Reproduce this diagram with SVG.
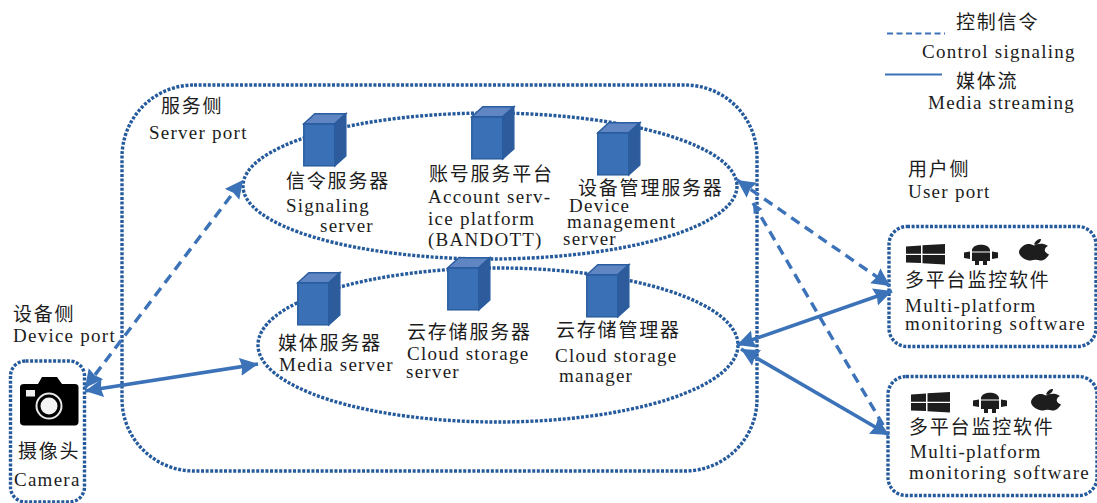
<svg xmlns="http://www.w3.org/2000/svg" width="1097" height="503" viewBox="0 0 1097 503">
<style>
text{font-family:"Liberation Serif","Noto Sans CJK SC",serif;fill:#1c1c1c;font-size:19px;letter-spacing:1.25px}
.zh{font-size:19px;letter-spacing:1.8px;font-family:"Noto Sans CJK SC","Liberation Serif",sans-serif;font-weight:400}
.box{fill:none;stroke:#255a9c;stroke-width:3.4;stroke-dasharray:3 1.6}
.sol{fill:none;stroke:#3b72b8;stroke-width:3.6}
.das{fill:none;stroke:#3b72b8;stroke-width:3.4;stroke-dasharray:10 6.500}
.ic{fill:#1d1d1d}
</style>
<defs>
<marker id="a" markerUnits="userSpaceOnUse" markerWidth="22" markerHeight="22" refX="18" refY="9" orient="auto-start-reverse"><path d="M0 0L18 9L0 18L2 9Z" fill="#3b72b8"/></marker>
<marker id="s" markerUnits="userSpaceOnUse" markerWidth="14" markerHeight="14" refX="10" refY="5" orient="auto-start-reverse"><path d="M0 0L10 5L0 10Z" fill="#3b72b8"/></marker>
<g id="cube"><rect x=".8" y="10.800" width="31" height="42" fill="#3a70b6" stroke="#2a5d9f" stroke-width="1.500"/><path d="M.8 10.800L11.800 .8H42.800L31.800 10.800Z" fill="#5f85c2" stroke="#2a5d9f" stroke-width="1.500"/><path d="M31.800 10.800L42.800 .8V42.800L31.800 52.800Z" fill="#2d5b9c" stroke="#2a5d9f" stroke-width="1.500"/></g>
<path id="win" class="ic" d="M0 2.500L15 1.500V9.700H0ZM16.500 1.300L39 0V9.700H16.500ZM0 11H15V19L0 18.500ZM16.500 11H39V20.500L16.500 19.200Z"/>
<path id="droid" class="ic" d="M8 7C9 0 25 0 26 7V8.500H8ZM8 9.500H26V18H23V22H19V18H15V22H11V18H8ZM0 9.500L6 8.500V16L0 15ZM28 8.500L34 9.500V15L28 16Z"/>
<path id="apple" class="ic" d="M4 7C8 4 12 5 15 6.500C18 5 24 3.500 29 7C25 9 24 13 30 15.500C28 19 25 22 21 21.500C18 20.500 15 20.500 12 21.500C8 22 0 18 0 13C0 10.500 2 8.500 4 7ZM15 5.500C16 2 19 0 22 0C22 3 19 6 15 5.500Z"/>
</defs>
<g id="legend">
<line class="das" x1="887" y1="33.500" x2="945" y2="33.500" style="stroke-width:2;stroke-dasharray:6 3.500"/>
<line class="sol" x1="885" y1="74.500" x2="942" y2="74.500" style="stroke-width:2"/>
<text class="zh" x="956" y="29">控制信令</text>
<text x="922" y="58">Control signaling</text>
<text class="zh" x="956" y="88">媒体流</text>
<text x="928" y="109">Media streaming</text>
</g>
<g id="server-port">
<rect class="box" x="122" y="85" width="635" height="386" rx="72" ry="72"/>
<text class="zh" x="161" y="113">服务侧</text>
<text x="149" y="139">Server port</text>
</g>
<g id="signal-group"><ellipse class="box" cx="490" cy="186" rx="247" ry="73"/></g>
<g id="media-group"><ellipse class="box" cx="498" cy="345" rx="240" ry="77"/></g>
<g id="signaling-server">
<use href="#cube" x="303" y="113"/>
<text class="zh" x="286" y="188">信令服务器</text>
<text x="286" y="212">Signaling</text>
<text x="320" y="232">server</text>
</g>
<g id="account-platform">
<use href="#cube" x="471" y="106"/>
<text class="zh" x="429" y="181">账号服务平台</text>
<text x="428" y="203">Account serv-</text>
<text x="428" y="225">ice platform</text>
<text x="428" y="246">(BANDOTT)</text>
</g>
<g id="device-management">
<use href="#cube" x="597" y="122"/>
<text class="zh" x="578" y="195">设备管理服务器</text>
<text x="569" y="212">Device</text>
<text x="567" y="228">management</text>
<text x="563" y="245">server</text>
</g>
<g id="media-server">
<use href="#cube" x="297" y="272"/>
<text class="zh" x="278" y="350">媒体服务器</text>
<text x="279" y="371">Media server</text>
</g>
<g id="cloud-storage">
<use href="#cube" x="447" y="257"/>
<text class="zh" x="407" y="339">云存储服务器</text>
<text x="407" y="360">Cloud storage</text>
<text x="406" y="378">server</text>
</g>
<g id="cloud-manager">
<use href="#cube" x="586" y="264"/>
<text class="zh" x="556" y="337">云存储管理器</text>
<text x="555" y="362">Cloud storage</text>
<text x="559" y="382">manager</text>
</g>
<g id="device-port">
<text class="zh" x="13" y="321">设备侧</text>
<text x="13" y="342">Device port</text>
</g>
<g id="camera">
<rect class="box" x="10.500" y="361" width="74" height="141" rx="15" ry="15"/>
<path fill="#000" d="M24 384H38L42 377H57L62 384H75C77 384 78.500 385 78.500 387V422C78.500 424 77 425.500 75 425.500H24C21.500 425.500 20 424 20 422V387C20 385 21.500 384 24 384Z"/>
<circle cx="49" cy="406" r="12.500" fill="none" stroke="#e8e8e8" stroke-width="2"/>
<circle cx="49" cy="406" r="8.500" fill="#f4f4f4"/>
<rect x="26" y="390" width="9" height="6.500" fill="#eee"/>
<text class="zh" x="18" y="458">摄像头</text>
<text x="14" y="486">Camera</text>
</g>
<g id="user-port">
<text class="zh" x="908" y="176">用户侧</text>
<text x="908" y="198">User port</text>
</g>
<g id="client-1">
<rect class="box" x="889" y="226.500" width="207" height="120" rx="18" ry="18"/>
<use href="#win" x="906" y="244"/><use href="#droid" x="964" y="243"/><use href="#apple" x="1019" y="239"/>
<text class="zh" x="905" y="287">多平台监控软件</text>
<text x="905" y="312">Multi-platform</text>
<text x="905" y="330" style="letter-spacing:1.400px">monitoring software</text>
</g>
<g id="client-2">
<rect class="box" x="888" y="376.500" width="209" height="119" rx="18" ry="18"/>
<use href="#win" x="911" y="392"/><use href="#droid" x="973" y="391"/><use href="#apple" x="1031" y="389"/>
<text class="zh" x="909" y="434">多平台监控软件</text>
<text x="910" y="458">Multi-platform</text>
<text x="909" y="479" style="letter-spacing:1.400px">monitoring software</text>
</g>
<g id="connectors">
<line class="das" x1="85" y1="388" x2="243" y2="180" marker-start="url(#a)" marker-end="url(#a)"/>
<line class="sol" x1="85" y1="391" x2="258" y2="364" marker-start="url(#a)" marker-end="url(#a)"/>
<line class="das" x1="737" y1="180" x2="890" y2="286" marker-start="url(#a)" marker-end="url(#a)"/>
<line class="das" x1="753" y1="203" x2="886" y2="430" marker-start="url(#s)"/>
<line class="sol" x1="737" y1="345" x2="892" y2="291" marker-start="url(#a)" marker-end="url(#a)"/>
<line class="sol" x1="741" y1="349" x2="889" y2="435" marker-start="url(#a)" marker-end="url(#a)"/>
</g>
</svg>
